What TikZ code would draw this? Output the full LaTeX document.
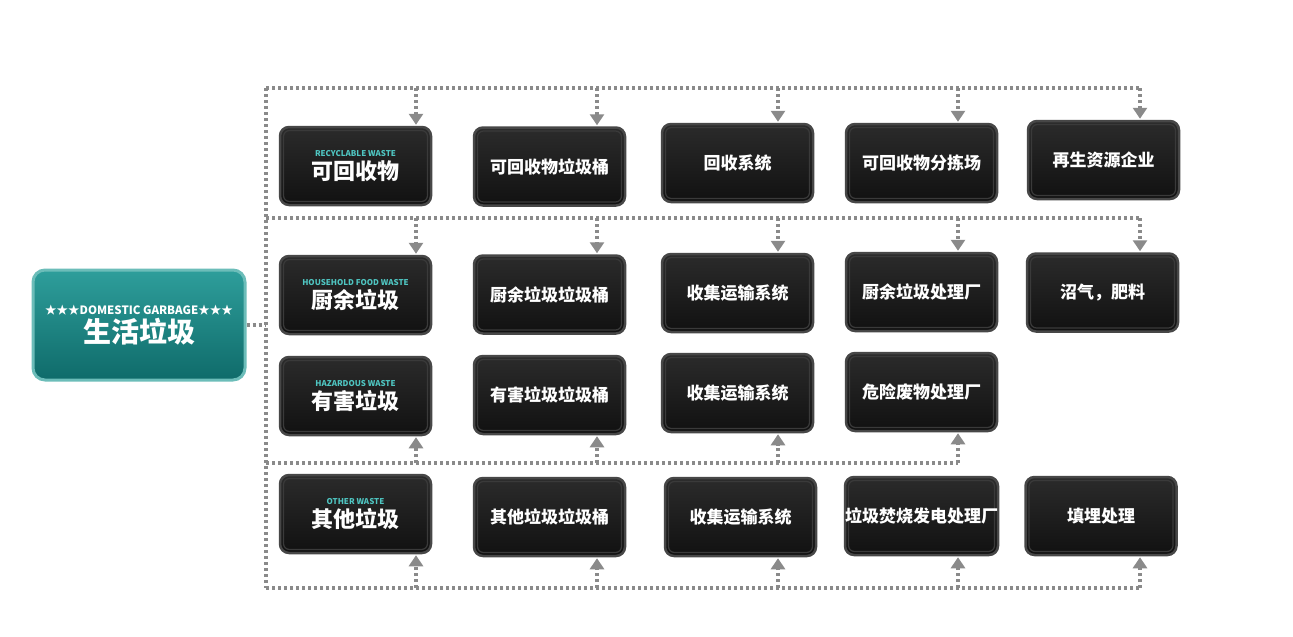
\documentclass[tikz,border=0pt]{standalone}
\usepackage{fontspec}
\setmainfont{Noto Sans CJK SC}
\usetikzlibrary{arrows.meta}
\definecolor{boxtop}{HTML}{2B2B2B}
\definecolor{boxbot}{HTML}{111111}
\definecolor{boxedge}{HTML}{474747}
\definecolor{boxrim}{HTML}{3A3A3A}
\definecolor{busgray}{HTML}{8A8A8A}
\definecolor{tealtop}{HTML}{2E9E9B}
\definecolor{tealbot}{HTML}{0F6B6A}
\definecolor{tealedge}{HTML}{6CBDB9}
\definecolor{labteal}{HTML}{4FC6C2}
\tikzset{
  wbox/.style={draw=boxedge, line width=2.5pt, rounded corners=9pt,
    top color=boxtop, bottom color=boxbot,
    minimum width=151pt, minimum height=78pt, inner sep=0pt,
    text=white, align=center, font=\bfseries\fontsize{17}{20}\selectfont,
    path picture={\draw[boxrim, line width=1.2pt, rounded corners=6pt]
      ([shift={(3.5pt,-3.5pt)}]path picture bounding box.north west) rectangle
      ([shift={(-3.5pt,3.5pt)}]path picture bounding box.south east);}},
  catbox/.style={wbox, font=\bfseries\fontsize{22}{24}\selectfont},
  mainbox/.style={draw=tealedge, line width=3pt, rounded corners=12pt,
    top color=tealtop, bottom color=tealbot,
    minimum width=212pt, minimum height=110pt, inner sep=0pt,
    text=white, align=center},
  bus/.style={draw=busgray, line width=3.5pt, dash pattern=on 3pt off 3pt},
  arr/.style={bus, -{Triangle[width=14pt,length=11pt]}, shorten >=1pt},
}
\newcommand{\eng}[1]{{\color{labteal}\fontsize{8}{8}\selectfont #1}\\[-1pt]}
\begin{document}
\begin{tikzpicture}[x=1pt,y=-1pt]
\useasboundingbox (0,0) rectangle (1293,637);
\fill[white] (0,0) rectangle (1293,637);

% main node
\node[mainbox] (main) at (139,325)
  {{\bfseries\fontsize{11.5}{12}\selectfont ★★★DOMESTIC GARBAGE★★★}\\[2pt]
   {\bfseries\fontsize{28}{30}\selectfont 生活垃圾}};

% row 1
\node[catbox] (b11) at (355.5,166) {\eng{RECYCLABLE WASTE}可回收物};
\node[wbox] (b12) at (549.5,166.5) {可回收物垃圾桶};
\node[wbox] (b13) at (737.5,163) {回收系统};
\node[wbox] (b14) at (921.5,163) {可回收物分拣场};
\node[wbox] (b15) at (1103.5,160) {再生资源企业};
% row 2
\node[catbox] (b21) at (355.5,295) {\eng{HOUSEHOLD FOOD WASTE}厨余垃圾};
\node[wbox] (b22) at (549.5,294.5) {厨余垃圾垃圾桶};
\node[wbox] (b23) at (737.5,293) {收集运输系统};
\node[wbox] (b24) at (921.5,292) {厨余垃圾处理厂};
\node[wbox] (b25) at (1102.5,292.5) {沼气，肥料};
% row 3
\node[catbox] (b31) at (355.5,396) {\eng{HAZARDOUS WASTE}有害垃圾};
\node[wbox] (b32) at (549.5,395) {有害垃圾垃圾桶};
\node[wbox] (b33) at (737.5,393) {收集运输系统};
\node[wbox] (b34) at (921.5,392) {危险废物处理厂};
% row 4
\node[catbox] (b41) at (355.5,514) {\eng{OTHER WASTE}其他垃圾};
\node[wbox] (b42) at (549.5,517) {其他垃圾垃圾桶};
\node[wbox] (b43) at (740.5,517) {收集运输系统};
\node[wbox] (b44) at (921.5,516) {垃圾焚烧发电处理厂};
\node[wbox] (b45) at (1101,516) {填埋处理};

% bus coordinates
\coordinate (lt) at (266,88);
\coordinate (lb) at (266,588);
\coordinate (r1) at (1140,88);
\coordinate (s2) at (266,218);
\coordinate (r2) at (1140,218);
\coordinate (s3) at (266,463);
\coordinate (r3) at (958,463);
\coordinate (r4) at (1140,588);

\draw[bus] (main.east) -- (main.east -| lt);
\draw[bus] (lt) -- (lb);
\draw[bus] (lt) -- (r1);
\draw[bus] (s2) -- (r2);
\draw[bus] (s3) -- (r3);
\draw[bus] (lb) -- (r4);

% taps
\foreach \x/\n in {416/1,597/2,778/3,958/4,1140/5}{
  \coordinate (t1\n) at (\x,88);
  \coordinate (t2\n) at (\x,218);
  \coordinate (t4\n) at (\x,588);
}
\foreach \x/\n in {416/1,597/2,778/3,958/4}{
  \coordinate (t3\n) at (\x,463);
}
\foreach \n in {1,...,5}{
  \draw[arr] (t1\n) -- (t1\n |- b1\n.north);
  \draw[arr] (t2\n) -- (t2\n |- b2\n.north);
  \draw[arr] (t4\n) -- (t4\n |- b4\n.south);
}
\foreach \n in {1,...,4}{
  \draw[arr] (t3\n) -- (t3\n |- b3\n.south);
}
\end{tikzpicture}
\end{document}
